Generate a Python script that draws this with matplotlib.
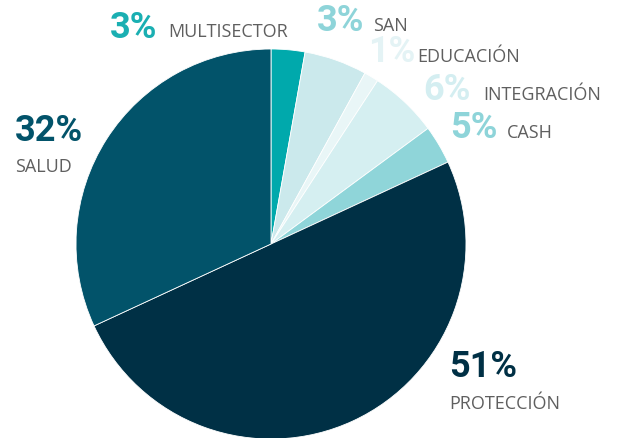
import matplotlib.pyplot as plt

# datos
categorias = ['MULTISECTOR', 'SAN', 'EDUCACIÓN', 'INTEGRACIÓN', 'CASH', 'PROTECCIÓN', 'SALUD']
valores = [2.8, 5.2, 1.2, 5.7, 3.2, 50.0, 31.9]
etiquetas_pct = ['3%', '3%', '1%', '6%', '5%', '51%', '32%']
colores = ['#00a9ac', '#cbe9ec', '#e9f6f7', '#d5eff1', '#8fd5d9', '#003045', '#02536a']
colores_pct = ['#1aafb2', '#8ed4d9', '#e4f3f5', '#d4eef1', '#8ed4d9', '#003045', '#02536a']

W, H = 629, 439
cx, cy, r = 271, 245, 195

fig = plt.figure(figsize=(W / 100, H / 100), dpi=100)
ax = fig.add_axes([(cx - r) / W, (H - cy - r) / H, 2 * r / W, 2 * r / H])
ax.pie(valores, colors=colores, startangle=90, counterclock=False, radius=1,
       wedgeprops=dict(edgecolor='white', linewidth=0.6))
ax.set_xlim(-1, 1)
ax.set_ylim(-1, 1)
ax.axis('off')

# posiciones de texto (pixeles: x pct, x nombre, baseline pct, baseline nombre)
pos = {
    'MULTISECTOR': (110, 168, 38, 37),
    'SAN': (317, 373, 31, 31),
    'EDUCACIÓN': (368, 417, 62, 62),
    'INTEGRACIÓN': (423, 483, 100, 100),
    'CASH': (450, 507, 138, 138),
    'PROTECCIÓN': (449, 449, 377, 409),
    'SALUD': (15, 15, 141, 172),
}

for cat, pct, col in zip(categorias, etiquetas_pct, colores_pct):
    xp, xn, yp, yn = pos[cat]
    fig.text(xp / W, 1 - yp / H, pct, fontsize=26, fontweight='bold',
             family='Roboto', color=col, va='baseline', ha='left')
    fig.text(xn / W, 1 - yn / H, cat, fontsize=13, family='Open Sans',
             color='#5f5f5f', va='baseline', ha='left')

fig.savefig('out.png', dpi=100)
